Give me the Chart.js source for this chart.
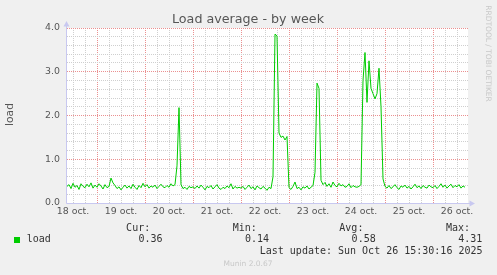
<!DOCTYPE html>
<html>
<head>
<meta charset="utf-8">
<title>Load average - by week</title>
<script src="https://cdn.jsdelivr.net/npm/chart.js@4/dist/chart.umd.min.js"></script>
<style>
  body { margin: 0; background: #f0f0f0; }
  canvas { display: block; }
</style>
</head>
<body>
<canvas id="loadChart" width="497" height="275"></canvas>
<script>
// load average, one value per hour, starting 18 oct 09:00
const loadValues = [
  // 18 oct
  0.38, 0.42, 0.33, 0.45, 0.36, 0.40, 0.31, 0.44, 0.38, 0.35, 0.43, 0.37, 0.46, 0.34, 0.41,
  // 19 oct
  0.36, 0.44, 0.39, 0.32, 0.42, 0.35, 0.38, 0.57, 0.46, 0.40, 0.33, 0.37, 0.30, 0.36, 0.41, 0.34,
  0.39, 0.33, 0.43, 0.36, 0.31, 0.40, 0.35, 0.45,
  // 20 oct
  0.37, 0.42, 0.34, 0.39, 0.36, 0.41, 0.33, 0.38, 0.43, 0.37, 0.35, 0.40, 0.36, 0.44, 0.39, 0.42,
  0.85, 2.18, 0.42, 0.33, 0.36, 0.31, 0.38, 0.35,
  // 21 oct
  0.37, 0.33, 0.39, 0.34, 0.41, 0.36, 0.30, 0.38, 0.35, 0.40, 0.32, 0.37, 0.42, 0.34, 0.31, 0.36,
  0.33, 0.39, 0.35, 0.44, 0.32, 0.38, 0.34, 0.36,
  // 22 oct
  0.34, 0.38, 0.31, 0.36, 0.41, 0.33, 0.37, 0.30, 0.39, 0.35, 0.32, 0.38, 0.34, 0.29, 0.36, 0.33,
  0.60, 3.86, 3.82, 1.60, 1.50, 1.53, 1.44, 1.52,
  // 23 oct
  0.35, 0.31, 0.38, 0.48, 0.33, 0.36, 0.30, 0.37, 0.34, 0.39, 0.32, 0.36, 0.40, 0.70, 2.74, 2.62,
  0.52, 0.42, 0.47, 0.38, 0.44, 0.36, 0.48, 0.40,
  // 24 oct
  0.37, 0.45, 0.39, 0.42, 0.36, 0.38, 0.44, 0.35, 0.40, 0.37, 0.36, 0.38, 0.42, 2.80, 3.44, 2.30,
  3.25, 2.62, 2.50, 2.38, 2.50, 3.08, 2.20, 0.55,
  // 25 oct
  0.38, 0.34, 0.40, 0.33, 0.37, 0.42, 0.35, 0.31, 0.39, 0.36, 0.41, 0.34, 0.38, 0.32, 0.37, 0.43,
  0.35, 0.39, 0.33, 0.40, 0.36, 0.34, 0.41, 0.37,
  // 26 oct
  0.35, 0.40, 0.33, 0.38, 0.44, 0.36, 0.41, 0.34, 0.39, 0.43, 0.35, 0.40, 0.37, 0.42, 0.34, 0.39, 0.36
];

// day labels, shown at noon of each day
const dayLabels = ["18 oct.", "19 oct.", "20 oct.", "21 oct.", "22 oct.", "23 oct.", "24 oct.", "25 oct.", "26 oct."];
const firstNoonHour = 3; // 18 oct 12:00 is 3 hours after start
const spanHours = 200.5;

// legend
const seriesName = "load";
const statLabels = ["Cur:", "Min:", "Avg:", "Max:"];
const statValues = ["0.36", "0.14", "0.58", "4.31"];
const lastUpdate = "Last update: Sun Oct 26 15:30:16 2025";

const lineGreen = "#00cc00";
const majorGrid = "#eb9090";
const minorGrid = "#cfcfcf";
const axisBlue = "#c8c8f0";
const sans = "'DejaVu Sans', sans-serif";
const mono = "'DejaVu Sans Mono', monospace";

function isMidnight(h) {
  return ((h - firstNoonHour - 12) % 24 + 24) % 24 === 0;
}

function isWhole(v) {
  return Math.abs(v - Math.round(v)) < 1e-6;
}

// background, axes, titles and legend text
const munin = {
  id: "munin",
  beforeDraw(chart) {
    const ctx = chart.ctx;
    const a = chart.chartArea;
    ctx.save();
    ctx.fillStyle = "#f0f0f0";
    ctx.fillRect(0, 0, chart.width, chart.height);
    ctx.fillStyle = "#ffffff";
    ctx.fillRect(a.left, a.top, a.right - a.left, a.bottom - a.top);
    ctx.restore();
  },
  afterDraw(chart) {
    const ctx = chart.ctx;
    const a = chart.chartArea;
    ctx.save();

    // axes with arrows
    ctx.strokeStyle = axisBlue;
    ctx.fillStyle = axisBlue;
    ctx.lineWidth = 1;
    ctx.beginPath();
    ctx.moveTo(a.left - 0.5, a.bottom + 0.5);
    ctx.lineTo(a.left - 0.5, a.top - 2);
    ctx.moveTo(a.left - 0.5, a.bottom + 0.5);
    ctx.lineTo(a.right + 2, a.bottom + 0.5);
    ctx.stroke();
    ctx.beginPath();
    ctx.moveTo(a.left - 0.5, a.top - 7);
    ctx.lineTo(a.left - 3.5, a.top - 1.5);
    ctx.lineTo(a.left + 2.5, a.top - 1.5);
    ctx.closePath();
    ctx.fill();
    ctx.beginPath();
    ctx.moveTo(a.right + 7, a.bottom + 0.5);
    ctx.lineTo(a.right + 1.5, a.bottom - 2.5);
    ctx.lineTo(a.right + 1.5, a.bottom + 3.5);
    ctx.closePath();
    ctx.fill();

    // title
    ctx.fillStyle = "#555555";
    ctx.font = "12.7px " + sans;
    ctx.textAlign = "center";
    ctx.textBaseline = "middle";
    ctx.fillText("Load average - by week", 248, 19.5);

    // y axis title
    ctx.save();
    ctx.translate(10.5, 114.5);
    ctx.rotate(-Math.PI / 2);
    ctx.font = "10.7px " + sans;
    ctx.fillText("load", 0, 0);
    ctx.restore();

    // watermarks
    ctx.fillStyle = "#c8c8c8";
    ctx.font = "7.5px " + sans;
    ctx.save();
    ctx.translate(487.5, 53.5);
    ctx.rotate(Math.PI / 2);
    ctx.fillText("RRDTOOL / TOBI OETIKER", 0, 0);
    ctx.restore();
    ctx.fillText("Munin 2.0.67", 248, 264);

    // legend
    ctx.fillStyle = lineGreen;
    ctx.fillRect(14, 237, 6, 6);
    ctx.fillStyle = "#333333";
    ctx.font = "10px " + mono;
    ctx.textAlign = "left";
    ctx.fillText(seriesName, 26.7, 239.5);
    ctx.textAlign = "right";
    statLabels.forEach((lab, i) => {
      ctx.fillText(lab, 150.2 + i * 106.6, 228);
      ctx.fillText(statValues[i], 162.5 + i * 106.6, 239.5);
    });
    ctx.fillText(lastUpdate, 482.5, 251.5);
    ctx.restore();
  }
};

function createLoadChart() {
  const ctx = document.getElementById("loadChart").getContext("2d");

  const data = {
    datasets: [
      {
        label: seriesName,
        data: loadValues.map((v, i) => ({ x: i, y: v })),
        borderColor: lineGreen,
        borderWidth: 1,
        pointRadius: 0,
        tension: 0,
        fill: false,
      },
    ],
  };

  const config = {
    type: "line",
    data: data,
    options: {
      responsive: false,
      animation: false,
      layout: { padding: { top: 28, right: 29, left: 0, bottom: 0 } },
      plugins: {
        legend: { display: false },
        title: { display: false },
        tooltip: { enabled: false },
      },
      scales: {
        x: {
          type: "linear",
          min: 0,
          max: spanHours,
          afterFit(scale) { scale.height = 72; },
          afterBuildTicks(scale) {
            const t = [];
            for (let h = firstNoonHour; h <= spanHours; h += 6) t.push({ value: h });
            scale.ticks = t;
          },
          grid: {
            drawTicks: false,
            lineWidth: 1,
            color: (c) => (c.tick && isMidnight(c.tick.value) ? majorGrid : minorGrid),
          },
          border: { display: false, dash: [1, 1] },
          ticks: {
            autoSkip: false,
            maxRotation: 0,
            padding: 3,
            color: "#555555",
            font: { family: "DejaVu Sans", size: 9.4 },
            callback: (v) => {
              const k = (v - firstNoonHour) / 24;
              return Number.isInteger(k) ? dayLabels[k] : "";
            },
          },
        },
        y: {
          min: 0,
          max: 4,
          afterFit(scale) { scale.width = 67; },
          grid: {
            drawTicks: false,
            lineWidth: 1,
            color: (c) => (c.tick && isWhole(c.tick.value) ? majorGrid : minorGrid),
          },
          border: { display: false, dash: [1, 1] },
          ticks: {
            autoSkip: false,
            stepSize: 0.2,
            padding: 7,
            color: "#555555",
            font: { family: "DejaVu Sans", size: 9.4 },
            callback: (v) => (isWhole(v) ? v.toFixed(1) : ""),
          },
        },
      },
    },
    plugins: [munin],
  };

  new Chart(ctx, config);
}

createLoadChart();
</script>
</body>
</html>
